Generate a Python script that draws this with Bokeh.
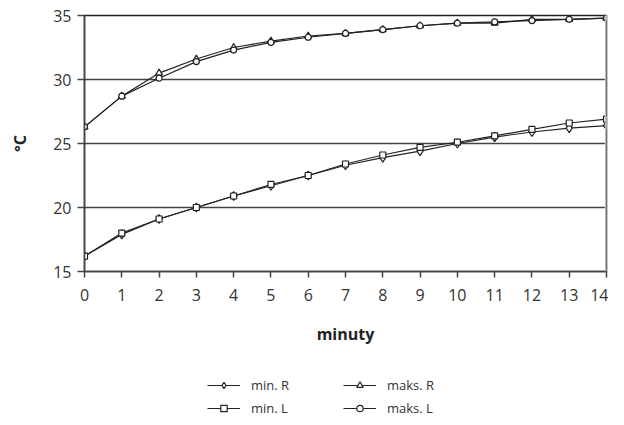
from bokeh.plotting import figure
from bokeh.layouts import column
from bokeh.models import Legend, LegendItem, FixedTicker, Range1d, Span
from bokeh.embed import file_html
from bokeh.resources import INLINE

minutes = list(range(15))
min_R = [16.2, 17.9, 19.1, 20.0, 20.9, 21.7, 22.5, 23.3, 23.9, 24.4, 25.0, 25.5, 25.9, 26.2, 26.4]
min_L = [16.2, 18.0, 19.1, 20.0, 20.9, 21.8, 22.5, 23.4, 24.1, 24.7, 25.1, 25.6, 26.1, 26.6, 26.9]
maks_R = [26.3, 28.7, 30.5, 31.6, 32.5, 33.0, 33.4, 33.6, 33.9, 34.2, 34.4, 34.4, 34.7, 34.7, 34.8]
maks_L = [26.3, 28.7, 30.1, 31.4, 32.3, 32.9, 33.3, 33.6, 33.9, 34.2, 34.4, 34.5, 34.6, 34.7, 34.8]
y_ticks = [15, 20, 25, 30, 35]
x_label = "minuty"
y_label = "°C"

FONT = "Open Sans"
INK = "#222222"

p = figure(width=608, height=355, output_backend="svg", toolbar_location=None,
           x_range=Range1d(0, 14), y_range=Range1d(15, 35),
           min_border_left=84, min_border_right=2, min_border_top=15, min_border_bottom=84)

p.outline_line_color = INK
p.outline_line_width = 1.5
p.background_fill_color = "white"

p.xgrid.visible = False
p.ygrid.ticker = FixedTicker(ticks=y_ticks)
p.ygrid.grid_line_color = "#444444"
p.ygrid.grid_line_width = 1.5

for ax in (p.xaxis[0], p.yaxis[0]):
    ax.axis_line_color = "#444444"
    ax.axis_line_width = 1.5
    ax.major_tick_line_color = "#444444"
    ax.major_tick_line_width = 1.5
    ax.major_tick_in = 0
    ax.minor_tick_line_color = None
    ax.major_label_text_font = FONT
    ax.major_label_text_font_size = "16px"
    ax.major_label_text_color = "#333333"
    ax.axis_label_text_font = FONT
    ax.axis_label_text_font_size = "16px"
    ax.axis_label_text_font_style = "bold"
    ax.axis_label_text_color = INK

p.xaxis.ticker = FixedTicker(ticks=minutes)
p.yaxis.ticker = FixedTicker(ticks=y_ticks)
p.xaxis.axis_label = x_label
p.yaxis.axis_label = y_label
p.xaxis.major_tick_out = 6
p.yaxis.major_tick_out = 7
p.xaxis.axis_label_standoff = 19
p.yaxis.axis_label_standoff = 19
p.xaxis.major_label_standoff = 11
p.yaxis.major_label_standoff = 6

# right edge shadow
p.add_layout(Span(location=14, dimension="height", line_color="#bbbbbb", line_width=3))

series = [
    ("min. R", min_R, "diamond", 9),
    ("min. L", min_L, "square", 6),
    ("maks. R", maks_R, "triangle", 7),
    ("maks. L", maks_L, "circle", 6),
]

# legend strip under the chart; its ranges keep the series' own marks out of view
q = figure(width=608, height=62, output_backend="svg", toolbar_location=None,
           x_range=Range1d(0, 14), y_range=Range1d(0, 1),
           min_border_left=0, min_border_right=0, min_border_top=0, min_border_bottom=0)
q.axis.visible = False
q.grid.visible = False
q.outline_line_color = None

items = {}
for name, ys, marker, size in series:
    p.line(minutes, ys, line_color=INK, line_width=1.2)
    p.scatter(minutes, ys, marker=marker, size=size, fill_color="white",
              line_color=INK, line_width=1.2)
    ln = q.line(minutes, ys, line_color=INK, line_width=1.2)
    sc = q.scatter(minutes, ys, marker=marker, size=size, fill_color="white",
                   line_color=INK, line_width=1.2)
    items[name] = LegendItem(label=name, renderers=[ln, sc])

leg1 = Legend(items=[items["min. R"], items["maks. R"]], orientation="horizontal")
leg2 = Legend(items=[items["min. L"], items["maks. L"]], orientation="horizontal")
for lg, yloc in ((leg1, 23), (leg2, 0)):
    lg.location = (123, yloc)
    lg.label_text_font = FONT
    lg.label_text_font_size = "13px"
    lg.label_text_color = "#333333"
    lg.glyph_width = 33
    lg.glyph_height = 16
    lg.label_standoff = 11
    lg.label_width = 80
    lg.spacing = 12
    lg.border_line_color = None
    lg.background_fill_alpha = 0
    lg.padding = 0
    lg.margin = 0
    q.add_layout(lg, "center")

layout = column(p, q, spacing=0)
open("out.html", "w").write(file_html(layout, INLINE))
